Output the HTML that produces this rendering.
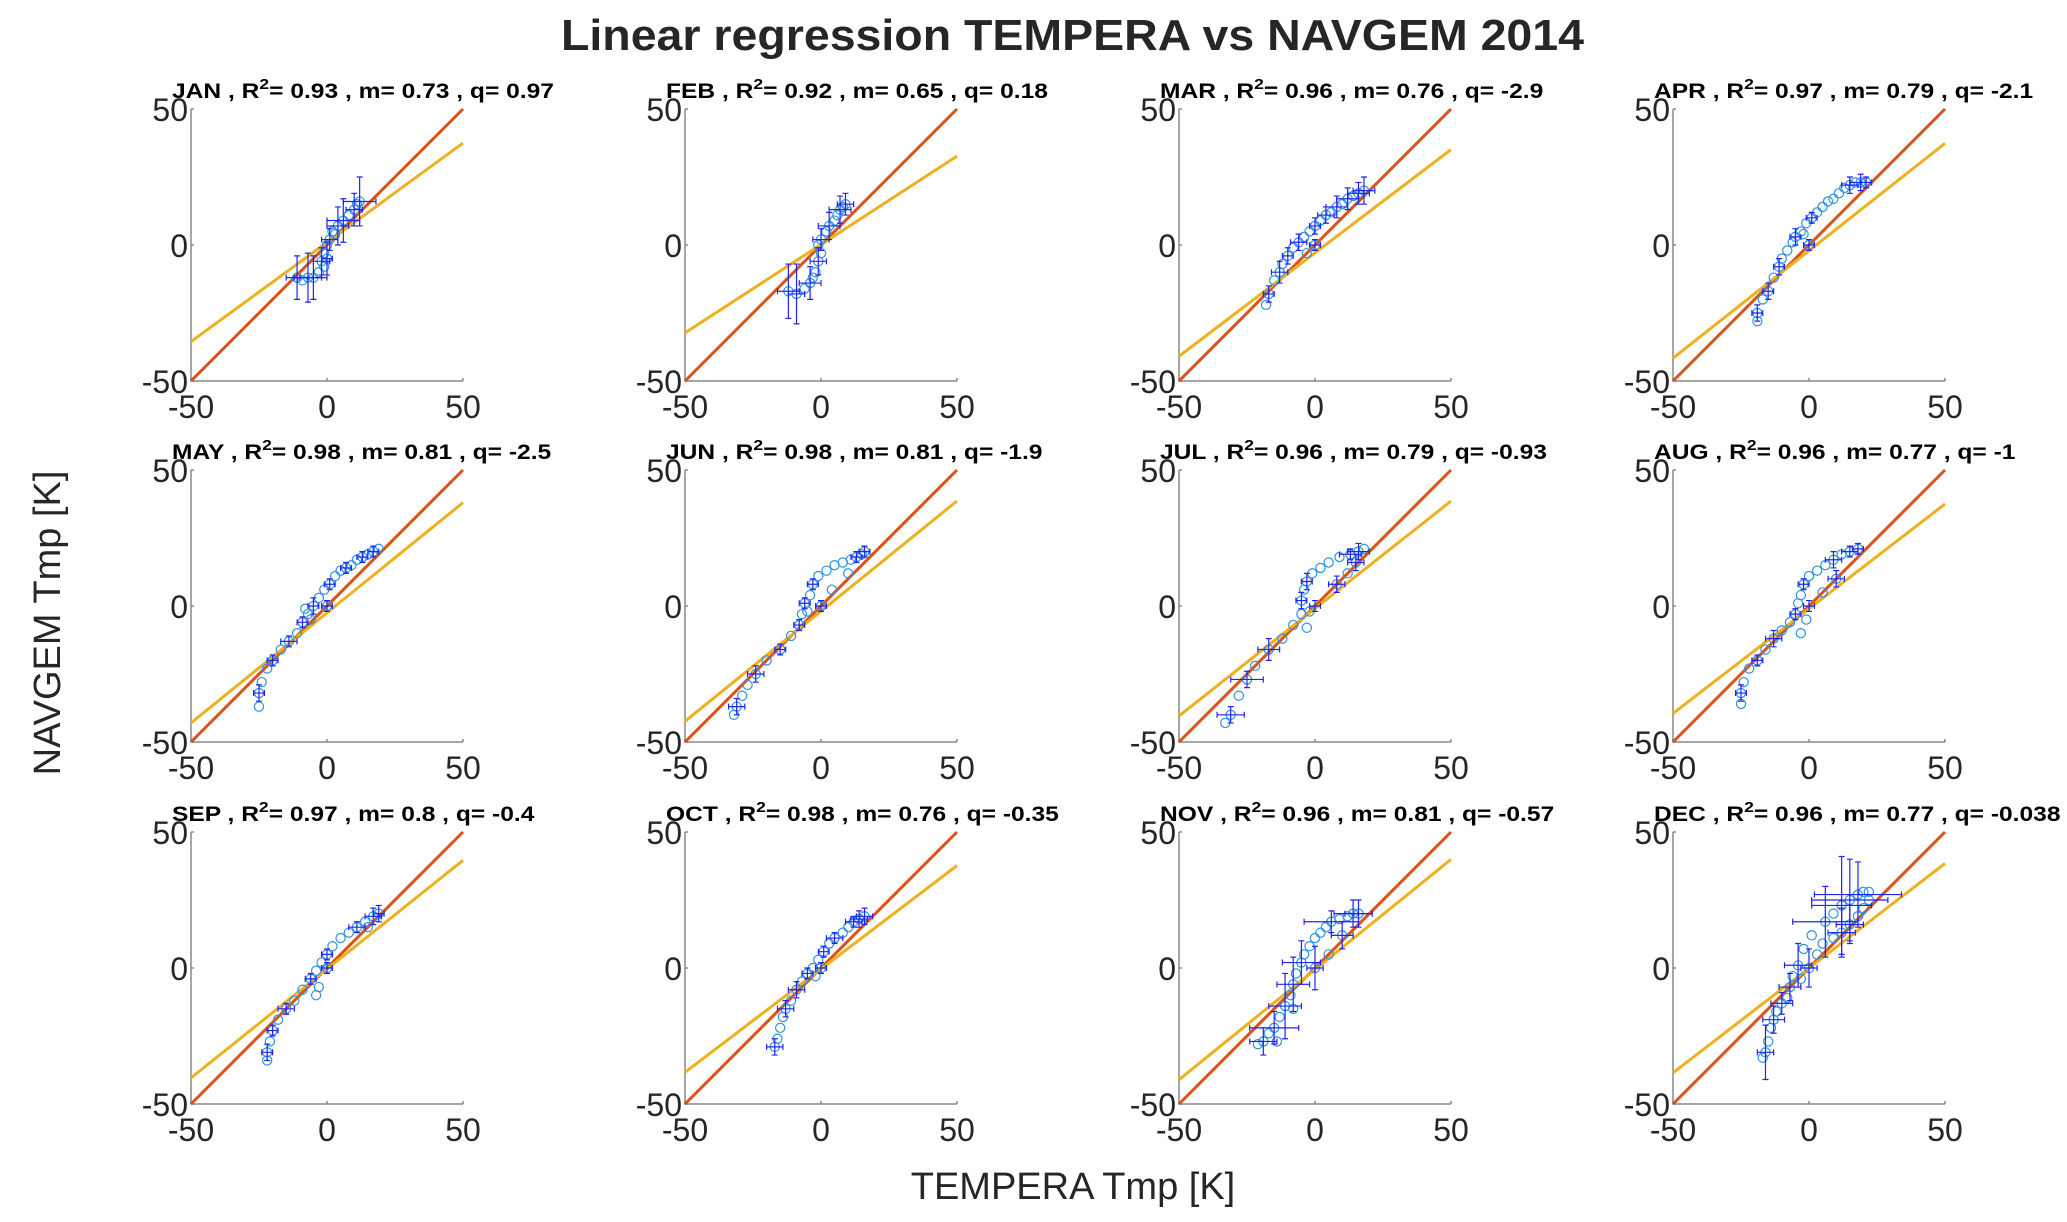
<!DOCTYPE html>
<html><head><meta charset="utf-8"><style>
html,body{margin:0;padding:0;background:#fff;}
svg{display:block;font-family:"Liberation Sans",sans-serif;}
</style></head><body>
<svg id="fig" width="2067" height="1222" viewBox="0 0 2067 1222" xmlns="http://www.w3.org/2000/svg">
<text x="561" y="50" font-size="44" font-weight="bold" fill="#262626" textLength="1023" lengthAdjust="spacingAndGlyphs">Linear regression TEMPERA vs NAVGEM 2014</text>
<text transform="translate(60,623) rotate(-90)" text-anchor="middle" font-size="38" fill="#262626">NAVGEM Tmp [K]</text>
<text x="1073" y="1199" text-anchor="middle" font-size="38" fill="#262626">TEMPERA Tmp [K]</text>
<g id="panels"></g>
</svg>
<script>
const months = ["JAN","FEB","MAR","APR","MAY","JUN","JUL","AUG","SEP","OCT","NOV","DEC"];
const r2 = ["0.93","0.92","0.96","0.97","0.98","0.98","0.96","0.96","0.97","0.98","0.96","0.96"];
const slopes = [0.73,0.65,0.76,0.79,0.81,0.81,0.79,0.77,0.8,0.76,0.81,0.77];
const intercepts = [0.97,0.18,-2.9,-2.1,-2.5,-1.9,-0.93,-1,-0.4,-0.35,-0.57,-0.038];
const tickValues = [-50,0,50];
const tickLabels = ["-50","0","50"];
const points = [
 [[-11,-12],[-9,-13],[-7,-12],[-5,-12],[-3,-10],[-1,-8],[0,-5],[-1,-3],[0,0],[1,2],[2,5],[4,7],[6,9],[8,11],[10,13],[11,15],[12,16],[-2,-6],[3,4]],
 [[-12,-17],[-9,-18],[-6,-16],[-4,-14],[-2,-10],[-1,-6],[0,-3],[-1,0],[0,2],[2,5],[3,7],[5,9],[6,11],[7,13],[8,14],[9,15],[-3,-12]],
 [[-18,-22],[-17,-18],[-15,-13],[-13,-10],[-12,-7],[-10,-4],[-8,-1],[-6,1],[-4,3],[-2,5],[0,7],[2,9],[4,11],[6,12],[8,14],[10,15],[12,17],[14,18],[16,19],[18,20],[0,0],[-3,-3]],
 [[-19,-28],[-19,-25],[-17,-20],[-15,-17],[-13,-12],[-11,-8],[-10,-5],[-8,-2],[-6,1],[-5,3],[-3,5],[-1,8],[1,10],[3,12],[5,14],[7,16],[9,17],[11,19],[13,21],[15,22],[17,23],[19,23],[21,23],[0,0],[-2,4]],
 [[-25,-37],[-25,-32],[-24,-28],[-22,-23],[-20,-20],[-17,-16],[-14,-13],[-11,-10],[-9,-6],[-7,-3],[-5,0],[-3,3],[-1,6],[1,8],[3,11],[5,13],[7,14],[9,15],[11,17],[13,18],[15,19],[17,20],[19,21],[0,0],[-8,-1],[-6,-5]],
 [[-32,-40],[-31,-37],[-29,-33],[-27,-29],[-24,-25],[-20,-20],[-15,-16],[-11,-11],[-8,-7],[-7,-3],[-6,1],[-4,4],[-3,8],[-1,11],[2,13],[5,15],[8,16],[11,17],[13,18],[15,19],[16,20],[0,0],[-5,-2],[4,6],[10,12]],
 [[-33,-43],[-31,-40],[-28,-33],[-25,-27],[-22,-22],[-17,-16],[-12,-12],[-8,-7],[-5,-3],[-5,2],[-4,6],[-3,9],[-1,12],[2,14],[5,16],[9,18],[13,19],[16,20],[18,21],[-3,-8],[-2,-2],[8,8],[12,12],[15,16]],
 [[-25,-36],[-25,-32],[-24,-28],[-22,-23],[-19,-20],[-16,-16],[-13,-12],[-10,-9],[-7,-6],[-5,-3],[-4,1],[-3,4],[-2,8],[0,11],[3,13],[6,15],[9,17],[12,19],[15,20],[18,21],[-3,-10],[-1,-5],[5,5],[10,10]],
 [[-22,-34],[-22,-31],[-21,-27],[-20,-23],[-18,-19],[-15,-15],[-12,-12],[-9,-8],[-6,-4],[-4,-1],[-2,2],[0,5],[2,8],[5,11],[8,13],[11,15],[14,17],[17,19],[19,20],[-4,-10],[-3,-7],[0,0],[15,15]],
 [[-17,-29],[-16,-26],[-15,-22],[-14,-18],[-13,-15],[-11,-12],[-9,-8],[-7,-5],[-5,-2],[-3,0],[-1,3],[1,6],[3,9],[5,11],[8,13],[10,15],[12,17],[14,18],[16,19],[-2,-3],[0,0]],
 [[-21,-28],[-19,-27],[-17,-24],[-15,-22],[-13,-18],[-11,-14],[-9,-10],[-8,-6],[-7,-2],[-5,2],[-4,5],[-2,8],[0,11],[2,13],[4,15],[6,17],[9,18],[12,19],[14,20],[16,20],[-14,-27],[-8,-15],[5,5],[10,12],[0,0]],
 [[-17,-33],[-16,-31],[-15,-27],[-14,-22],[-13,-19],[-12,-16],[-10,-13],[-8,-11],[-7,-7],[-6,-3],[-4,1],[-2,7],[1,12],[6,17],[9,20],[12,23],[15,25],[18,27],[20,28],[22,28],[-3,-4],[0,0],[3,5],[5,9],[9,11],[12,13],[15,16],[18,19],[20,22],[22,25]]
];
const errorBars = [
 [[-11,-12,4,8],[-7,-12,5,9],[-5,-12,5,8],[0,-5,2,6],[1,2,3,4],[4,7,4,7],[6,9,6,8],[10,13,3,6],[12,16,6,9],[-2,-6,3,5]],
 [[-12,-17,4,10],[-9,-18,3,11],[-4,-14,4,6],[-1,-6,3,5],[0,2,3,4],[3,7,4,5],[7,13,4,5],[9,15,3,4]],
 [[-17,-18,2,3],[-13,-10,3,4],[-10,-4,2,3],[-6,1,3,3],[0,7,2,3],[4,11,3,3],[8,14,4,4],[12,17,4,4],[16,19,4,4],[18,20,4,5],[0,0,2,2]],
 [[-19,-25,2,3],[-15,-17,2,3],[-11,-8,2,3],[-5,3,2,3],[1,10,2,2],[15,22,3,3],[19,23,4,3],[21,23,2,2],[0,0,2,2]],
 [[-25,-32,2,3],[-20,-20,2,2],[-14,-13,3,2],[-9,-6,2,2],[-5,0,2,3],[1,8,2,2],[7,14,2,2],[13,18,2,2],[17,20,2,2],[0,0,2,2]],
 [[-31,-37,3,3],[-24,-25,3,3],[-15,-16,2,2],[-8,-7,2,2],[-6,1,2,2],[-3,8,2,2],[13,18,2,2],[16,20,2,2],[0,0,2,2]],
 [[-31,-40,5,3],[-25,-27,6,3],[-17,-16,4,4],[-5,2,2,3],[-3,9,2,3],[13,19,4,2],[16,20,4,3],[15,16,3,3],[8,8,3,3],[0,0,2,2]],
 [[-25,-32,2,3],[-19,-20,2,2],[-13,-12,3,3],[-5,-3,2,2],[-2,8,2,2],[9,17,3,3],[15,20,3,2],[18,21,2,2],[10,10,3,3],[0,0,2,2]],
 [[-22,-31,2,3],[-20,-23,2,2],[-15,-15,3,2],[-6,-4,2,2],[0,5,2,2],[11,15,3,2],[17,19,3,3],[19,20,2,3],[0,0,2,2]],
 [[-17,-29,3,3],[-13,-15,3,3],[-9,-8,3,3],[-5,-2,2,2],[1,6,2,2],[5,11,3,2],[12,17,3,2],[14,18,3,3],[16,19,3,3],[0,0,2,2]],
 [[-19,-27,5,5],[-15,-22,9,6],[-11,-14,6,12],[-8,-6,6,10],[-5,2,7,8],[0,0,3,8],[6,17,10,4],[10,12,4,5],[14,20,7,5],[16,20,5,5]],
 [[-16,-31,3,10],[-13,-19,4,5],[-10,-13,4,4],[-7,-7,4,5],[-4,1,5,8],[0,0,3,7],[6,17,12,13],[12,23,11,18],[15,25,14,15],[18,27,16,12],[15,16,5,7],[12,13,5,9]]
];
const svgNS = "http://www.w3.org/2000/svg";
const root = document.getElementById("panels");
const colLeft = [191,685,1179,1673];
const rowTop = [109,470,832];
const W = 272, H = 272;
function mk(tag, attrs, parent){
  const e = document.createElementNS(svgNS, tag);
  for (const k in attrs) e.setAttribute(k, attrs[k]);
  parent.appendChild(e);
  return e;
}
months.forEach((mon, i) => {
  const L = colLeft[i % 4], T = rowTop[Math.floor(i / 4)];
  const sx = v => L + (v + 50) / 100 * W;
  const sy = v => T + H - (v + 50) / 100 * H;
  const g = mk("g", {}, root);
  
  
  const t = mk("text", {x: L - 19, y: T - 11, "font-size": 21, "font-weight": "bold", fill: "#000"}, g);
  
  
  const s1 = mk("tspan", {}, t); s1.textContent = mon + " , R";
  const s2 = mk("tspan", {dy: -9, "font-size": 15}, t); s2.textContent = "2";
  const s3 = mk("tspan", {dy: 9}, t); s3.textContent = "= " + r2[i] + " , m= " + slopes[i] + " , q= " + intercepts[i];
  const nat = t.getComputedTextLength();
  if (nat > 0) { t.setAttribute("textLength", nat * 1.17); t.setAttribute("lengthAdjust", "spacingAndGlyphs"); }
  const ax = mk("path", {d: `M${L},${T} L${L},${T+H} L${L+W},${T+H}`, fill: "none", stroke: "#888", "stroke-width": 1.5}, g);
  
  
  tickValues.forEach((v, k) => {
    const tk = mk("path", {d: `M${sx(v)},${T+H} L${sx(v)},${T+H-3} M${L},${sy(v)} L${L+3},${sy(v)}`, stroke: "#888", "stroke-width": 1.5}, g);
    
    
    const xl = mk("text", {x: sx(v), y: T + H + 37, "text-anchor": "middle", "font-size": 32, fill: "#262626"}, g);
    xl.textContent = tickLabels[k];
    
    
    const yl = mk("text", {x: L - 3, y: sy(v) + 12, "text-anchor": "end", "font-size": 32, fill: "#262626"}, g);
    yl.textContent = tickLabels[k];
    
    
  });
  const id = mk("line", {x1: sx(-50), y1: sy(-50), x2: sx(50), y2: sy(50), stroke: "#d95319", "stroke-width": 3}, g);
  
  
  const fit = mk("line", {x1: sx(-50), y1: sy(slopes[i] * -50 + intercepts[i]), x2: sx(50), y2: sy(slopes[i] * 50 + intercepts[i]), stroke: "#edb120", "stroke-width": 3}, g);
  
  
  points[i].forEach(p => {
    const c = mk("circle", {cx: sx(p[0]), cy: sy(p[1]), r: 4.6, fill: "none", stroke: "#2f93e0", "stroke-width": 1.2}, g);
    
    
  });
  errorBars[i].forEach(b => {
    const x = sx(b[0]), y = sy(b[1]), x0 = sx(b[0] - b[2]), x1 = sx(b[0] + b[2]), y0 = sy(b[1] - b[3]), y1 = sy(b[1] + b[3]);
    const d = `M${x0},${y} L${x1},${y} M${x0},${y-3} L${x0},${y+3} M${x1},${y-3} L${x1},${y+3} M${x},${y0} L${x},${y1} M${x-3},${y0} L${x+3},${y0} M${x-3},${y1} L${x+3},${y1}`;
    const e = mk("path", {d: d, stroke: "#2323f0", "stroke-width": 1.2, fill: "none"}, g);
    
    
  });
});
</script>
</body></html>
